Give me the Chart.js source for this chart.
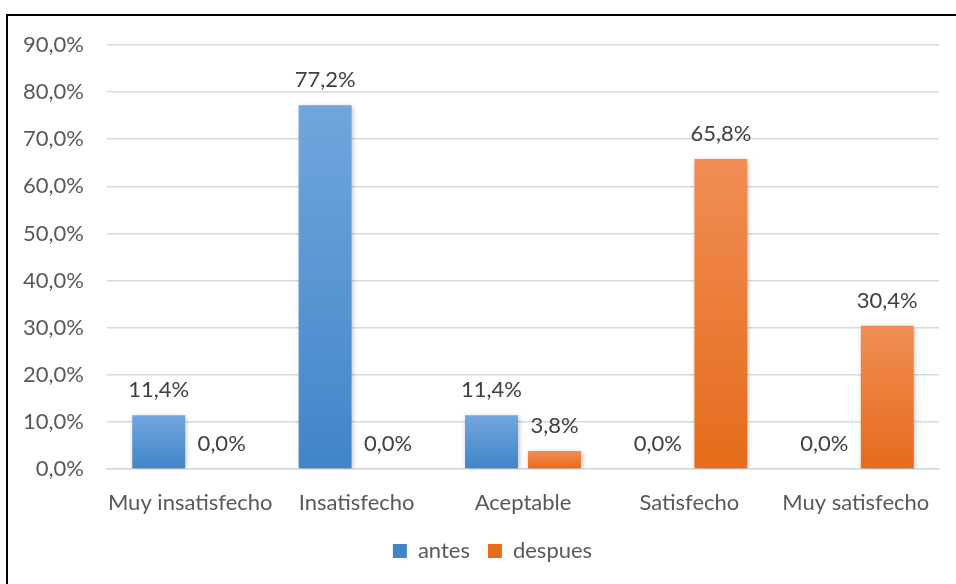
<!DOCTYPE html>
<html>
<head>
<meta charset="utf-8">
<script src="https://cdn.jsdelivr.net/npm/chart.js@4/dist/chart.umd.min.js"></script>
<style>
  body { margin: 0; background: #fff; }
  #wrap { position: relative; width: 956px; height: 584px; overflow: hidden; }
  #frame { position: absolute; left: 6px; top: 14px; width: 970px; height: 600px;
           border-top: 2px solid #000; border-left: 2px solid #000; pointer-events: none; }
</style>
</head>
<body>
<div id="wrap">
  <canvas id="myChart" width="956" height="584"></canvas>
  <div id="frame"></div>
</div>
<script>
const categorias = ['Muy insatisfecho', 'Insatisfecho', 'Aceptable', 'Satisfecho', 'Muy satisfecho'];
const antes = [11.4, 77.2, 11.4, 0.0, 0.0];
const despues = [0.0, 0.0, 3.8, 65.8, 30.4];
const ticksY = [0, 10, 20, 30, 40, 50, 60, 70, 80, 90];

const fuente = 'Lato, "Open Sans", sans-serif';
const tam = 22;

function coma(v) {
  return v.toFixed(1).replace('.', ',') + '%';
}

// degradado vertical para cada barra, claro arriba y oscuro abajo
function degradado(arriba, abajo) {
  return function(ctx) {
    let chart = ctx.chart;
    let y = chart.scales.y;
    if (!y || typeof ctx.raw !== 'number') return abajo;
    let top = y.getPixelForValue(ctx.raw);
    let base = y.getPixelForValue(0);
    if (!isFinite(top) || !isFinite(base) || base - top < 1) return abajo;
    let g = chart.ctx.createLinearGradient(0, top, 0, base);
    g.addColorStop(0, arriba);
    g.addColorStop(1, abajo);
    return g;
  };
}

// sombra suave detras de las barras
const sombra = {
  id: 'sombra',
  beforeDatasetsDraw(chart) {
    let c = chart.ctx;
    c.save();
    c.shadowColor = 'rgba(0,0,0,0.28)';
    c.shadowBlur = 5;
    c.shadowOffsetX = 1;
    c.shadowOffsetY = 1;
  },
  afterDatasetsDraw(chart) {
    chart.ctx.restore();
  }
};

// la leyenda va un poco a la derecha del centro
const moverLeyenda = {
  id: 'moverLeyenda',
  afterLayout(chart) {
    chart.legend.left += 23;
    chart.legend.right += 23;
  }
};

// etiquetas de valor encima de cada barra
const etiquetas = {
  id: 'etiquetas',
  afterDatasetsDraw(chart) {
    let c = chart.ctx;
    c.save();
    c.font = tam + 'px ' + fuente;
    c.fillStyle = '#404040';
    c.textAlign = 'center';
    c.textBaseline = 'bottom';
    chart.data.datasets.forEach(function(ds, i) {
      let meta = chart.getDatasetMeta(i);
      meta.data.forEach(function(bar, j) {
        c.fillText(coma(ds.data[j]), bar.x, bar.y - 14);
      });
    });
    c.restore();
  }
};

let ctx = document.getElementById('myChart').getContext('2d');
let chart = new Chart(ctx, {
  type: 'bar',
  data: {
    labels: categorias,
    datasets: [{
      label: 'antes',
      data: antes,
      backgroundColor: degradado('#71a6dd', '#4085c8'),
      categoryPercentage: 0.757,
      barPercentage: 0.84
    }, {
      label: 'despues',
      data: despues,
      backgroundColor: degradado('#f18d55', '#e46c1a'),
      categoryPercentage: 0.757,
      barPercentage: 0.84
    }]
  },
  plugins: [sombra, moverLeyenda, etiquetas],
  options: {
    responsive: false,
    animation: false,
    layout: { padding: { top: 45, right: 17, bottom: 12, left: 0 } },
    scales: {
      x: {
        grid: { display: false },
        border: { color: '#d9d9d9', width: 1.5 },
        ticks: {
          color: '#595959',
          font: { family: fuente, size: tam },
          padding: 13,
          maxRotation: 0,
          autoSkip: false
        },
        afterFit(scale) { scale.height = 53; }
      },
      y: {
        min: 0,
        max: 90,
        afterBuildTicks(scale) { scale.ticks = ticksY.map(v => ({ value: v })); },
        grid: { color: '#d9d9d9', lineWidth: 1.5, drawTicks: false },
        border: { display: false },
        ticks: {
          color: '#595959',
          font: { family: fuente, size: tam },
          padding: 23,
          callback: v => coma(v)
        },
        afterFit(scale) { scale.width = 107; }
      }
    },
    plugins: {
      legend: {
        position: 'bottom',
        labels: {
          color: '#595959',
          font: { family: fuente, size: tam },
          boxWidth: 14,
          boxHeight: 14,
          padding: 18
        }
      },
      tooltip: { enabled: false }
    }
  }
});
</script>
</body>
</html>
